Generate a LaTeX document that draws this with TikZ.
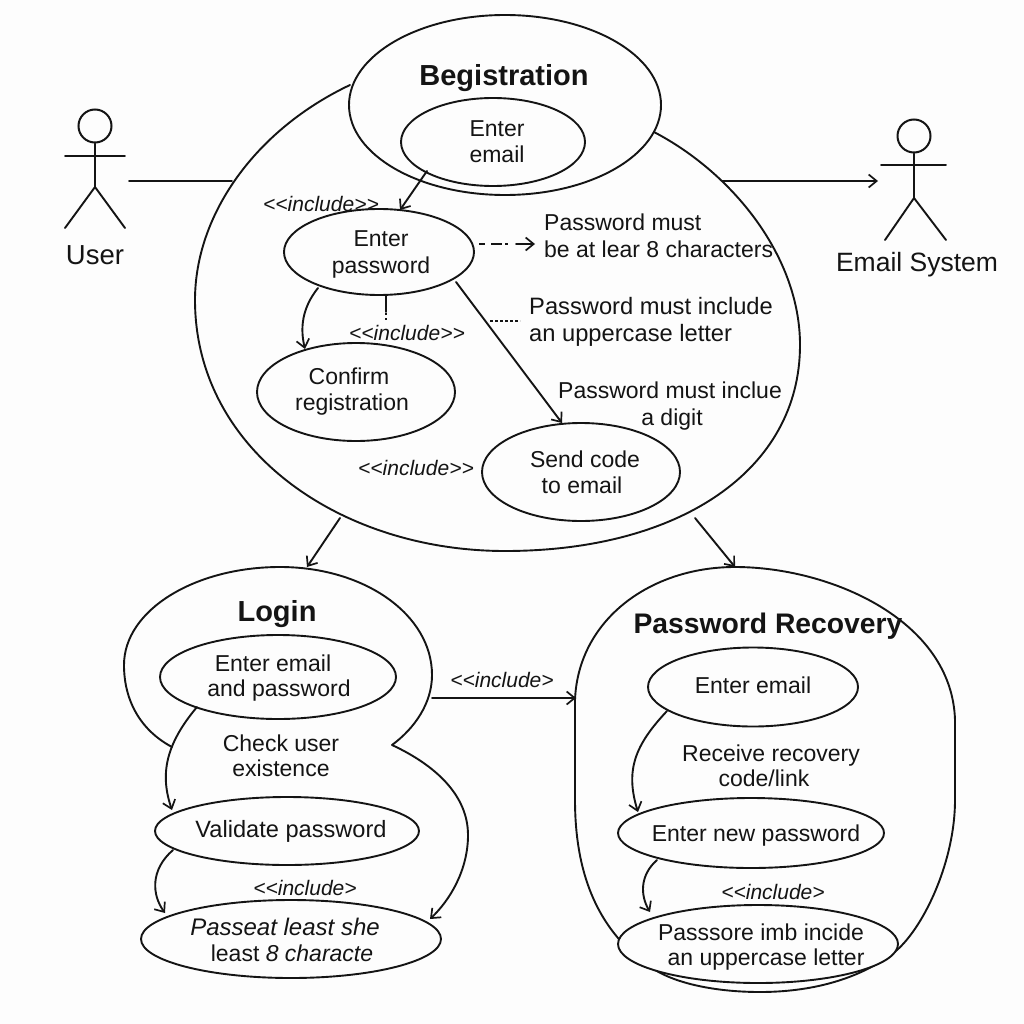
\documentclass[tikz,border=0pt]{standalone}
\usepackage{fontspec}
\setmainfont{Liberation Sans}
\usetikzlibrary{shapes.geometric,arrows.meta}
\newcommand{\fs}[1]{\fontsize{#1}{#1}\selectfont}
\newcommand{\incl}{{<}{<}include{>}{>}}
\newcommand{\inclb}{{<}{<}include{>}}
\definecolor{paper}{HTML}{FDFDFD}
\definecolor{ink}{HTML}{141414}
\tikzset{
  x=1pt,y=-1pt,
  line/.style={line width=1.9pt,line join=round,line cap=round,color=ink},
  usecase/.style={ellipse,draw=ink,line width=1.9pt,fill=paper,inner sep=-60pt},
  lbl/.style={inner sep=0pt,text=ink,text height=16pt,text depth=0pt,font=\fs{23}},
  title/.style={inner sep=0pt,text=ink,text height=20pt,text depth=0pt,font=\fs{29}\bfseries},
  stereo/.style={inner sep=0pt,text=ink,text height=15pt,text depth=0pt,font=\fs{21}\itshape},
  arr/.style={line,-{Straight Barb[length=8pt,width=13pt,line width=1.7pt]}},
  actorlbl/.style={inner sep=0pt,text=ink,text height=19pt,text depth=0pt,font=\fs{26.5}},
  actorhead/.style={circle,draw=ink,line width=2pt,minimum size=33pt,inner sep=0pt}
}
\begin{document}
\begin{tikzpicture}
\fill[paper] (0,0) rectangle (1024,1024);
\useasboundingbox (0,0) rectangle (1024,1024);

% containers
\coordinate (regL) at (350,85);
\coordinate (regLs) at (232,181);
\coordinate (regBL) at (340,518);
\coordinate (regBR) at (695,518);
\coordinate (regRs) at (722,181);
\draw[line] (regL) .. controls (255,130) and (195,215) .. (195,300)
  .. controls (195,450) and (340,551) .. (505,551)
  .. controls (680,551) and (800,470) .. (800,345)
  .. controls (800,255) and (730,170) .. (650,130);

\coordinate (logA) at (172,747);
\coordinate (logEnd) at (430,919);
\coordinate (logR) at (432,698);
\draw[line] (logA) .. controls (140,730) and (124,700) .. (124,665)
  .. controls (124,610) and (195,567) .. (280,567)
  .. controls (365,567) and (432,615) .. (432,675)
  .. controls (432,703) and (415,728) .. (392,745)
  .. controls (435,765) and (468,795) .. (468,835);
\draw[arr] (468,835) .. controls (468,870) and (450,900) .. (logEnd);

\coordinate (recL) at (576,698);
\coordinate (recT) at (735,567);
\draw[line] (575,700) .. controls (578,620) and (650,567) .. (recT)
  .. controls (830,567) and (952,620) .. (955,720)
  -- (955,800)
  .. controls (955,860) and (925,925) .. (897,950)
  .. controls (860,980) and (810,992) .. (760,992)
  .. controls (720,992) and (680,985) .. (655,970)
  -- (618,938)
  .. controls (590,905) and (575,860) .. (575,800)
  -- cycle;
\node[title,font=\fs{28.3}\bfseries] (titlePR) at (768,623) {Password Recovery};

% registration
\node[usecase,minimum width=312pt,minimum height=180pt] (reg) at (505,105) {};
\node[title] (regT) at (504,76) {Begistration};
\node[usecase,minimum width=184pt,minimum height=88pt] (email) at (493,142) {};
\node[lbl] (emailA) at (497,129) {Enter};
\node[lbl] (emailB) at (497,155) {email};
\node[usecase,minimum width=190pt,minimum height=86pt] (pass) at (379,252) {};
\node[lbl] (passA) at (381,239) {Enter};
\node[lbl] (passB) at (381,265) {password};
\node[usecase,minimum width=198pt,minimum height=98pt] (conf) at (356,392) {};
\node[lbl] (confA) at (349,376) {Confirm};
\node[lbl] (confB) at (352,402) {registration};
\node[usecase,minimum width=198pt,minimum height=98pt] (send) at (581,472) {};
\node[lbl] (sendA) at (585,459) {Send code};
\node[lbl] (sendB) at (582,485) {to email};

\node[stereo] (s1) at (321,204) {\incl};
\node[stereo] (s2) at (407,333) {\incl};
\node[stereo] (s3) at (416,468) {\incl};

\node[lbl,anchor=west] (r1) at (544,222) {Password must};
\node[lbl,anchor=west] (r1b) at (544,250) {be at lear 8 characters};
\node[lbl,anchor=west,font=\fs{23.7}] (r2) at (529,306) {Password must include};
\node[lbl,anchor=west,font=\fs{23.7}] (r2b) at (529,333) {an uppercase letter};
\node[lbl] (r3) at (670,390) {Password must inclue};
\node[lbl] (r3b) at (672,417) {a digit};

\draw[arr] (427,171) -- (400,210);
\draw[arr] (318,288) .. controls (302,308) and (300,328) .. (305,349);
\draw[line] (386,295) -- (386,312);
\draw[line,line cap=butt,dash pattern=on 2pt off 3pt] (386,313) -- (386,321);
\draw[arr] (456,282) -- (562,423);
\draw[line,line cap=butt,dash pattern=on 6pt off 6pt on 11pt off 3pt on 3pt off 30pt] (479,244) -- (510,244);
\draw[arr] (516,244) -- (535,244);
\draw[line,line width=1.4pt,line cap=butt,dash pattern=on 3pt off 2pt] (490,321) -- (520,321);

% actors
\node[actorhead] (uh) at (95,126) {};
\coordinate (uh2) at (95,187);
\draw[line] (uh) -- (uh2);
\coordinate (uaL) at (65,156); \coordinate (uaR) at (125,156);
\coordinate (ulL) at (65,228); \coordinate (ulR) at (125,228);
\draw[line] (uaL) -- (uaR);
\draw[line] (ulL) -- (uh2) -- (ulR);
\node[actorlbl,font=\fs{27.5}] (uname) at (95,255) {User};

\node[actorhead] (eh) at (914,136) {};
\coordinate (eh2) at (914,198);
\draw[line] (eh) -- (eh2);
\coordinate (eaL) at (881,165); \coordinate (eaR) at (946,165);
\coordinate (elL) at (885,240); \coordinate (elR) at (946,240);
\draw[line] (eaL) -- (eaR);
\draw[line] (elL) -- (eh2) -- (elR);
\node[actorlbl] (ename) at (917,262) {Email System};

\coordinate (userEnd) at (129,181);
\coordinate (mailEnd) at (878,181);
\draw[line] (userEnd) -- (regLs);
\draw[arr] (regRs) -- (mailEnd);

% login
\node[title] (logT) at (277,611) {Login};
\node[usecase,minimum width=236pt,minimum height=84pt] (lg1) at (278,677) {};
\node[lbl] (lg1A) at (273,663) {Enter email};
\node[lbl] (lg1B) at (279,688) {and password};
\node[lbl] (lg2A) at (281,743) {Check user};
\node[lbl] (lg2B) at (281,768) {existence};
\node[usecase,minimum width=264pt,minimum height=68pt] (lg3) at (287,831) {};
\node[lbl,font=\fs{23.6}] (lg3A) at (291,829) {Validate password};
\node[usecase,minimum width=300pt,minimum height=78pt] (lg4) at (291,939) {};
\node[lbl,font=\fs{24}\itshape] (lg4A) at (285,927) {Passeat least she};
\node[lbl] (lg4B) at (292,953) {least {\itshape 8 characte}};
\node[stereo] (s4) at (305,888) {\inclb};

\draw[arr] (197,707) .. controls (165,745) and (160,775) .. (172,810);
\draw[arr] (173,850) .. controls (150,870) and (152,895) .. (165,913);

% recovery
\node[usecase,minimum width=210pt,minimum height=79pt] (rc1) at (753,687) {};
\node[lbl] (rc1A) at (753,685) {Enter email};
\node[lbl] (rc2A) at (771,753) {Receive recovery};
\node[lbl] (rc2B) at (764,778) {code/link};
\node[usecase,minimum width=266pt,minimum height=70pt] (rc3) at (751,833) {};
\node[lbl] (rc3A) at (756,833) {Enter new password};
\node[usecase,minimum width=280pt,minimum height=78pt] (rc4) at (758,944) {};
\node[lbl] (rc4A) at (761,932) {Passsore imb incide};
\node[lbl] (rc4B) at (766,957) {an uppercase letter};
\node[stereo] (s5) at (773,892) {\inclb};

\draw[arr] (667,711) .. controls (635,745) and (625,770) .. (638,812);
\draw[arr] (657,860) .. controls (640,875) and (640,895) .. (650,912);

% between
\draw[arr] (regBL) -- (307,567);
\draw[arr] (regBR) -- (recT);
\draw[arr] (logR) -- (recL);
\node[stereo] (s6) at (502,680) {\inclb};
\end{tikzpicture}
\end{document}
